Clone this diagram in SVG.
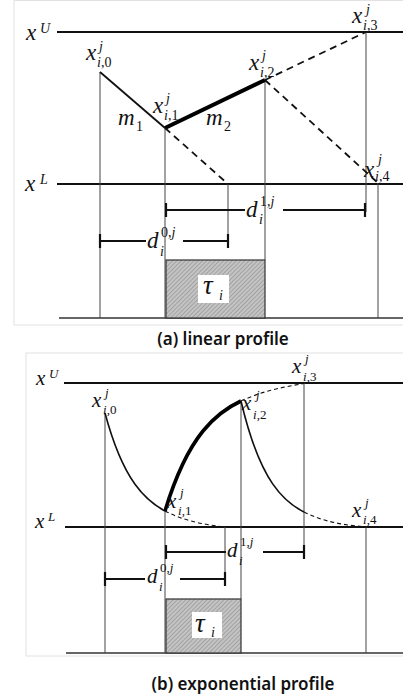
<svg xmlns="http://www.w3.org/2000/svg" width="403" height="696" viewBox="0 0 403 696">
<style>
.frame{fill:#fff;stroke:#e2e2e2;stroke-width:1}
.axis{stroke:#111;stroke-width:2;fill:none}
.base{stroke:#333;stroke-width:1.6;fill:none}
.vl{stroke:#444;stroke-width:1;fill:none}
.sol{stroke:#111;stroke-width:1.8;fill:none}
.thick{stroke:#000;stroke-width:4;fill:none}
.dsh{stroke:#111;stroke-width:1.8;stroke-dasharray:7 5;fill:none}
.solb{stroke:#111;stroke-width:1.6;fill:none}
.thickb{stroke:#000;stroke-width:3.6;fill:none}
.dshb{stroke:#111;stroke-width:1.1;stroke-dasharray:4 3;fill:none}
.dim{stroke:#111;stroke-width:1.8;fill:none}
.tick{stroke:#111;stroke-width:2.2;fill:none}
.box{fill:url(#hatch);stroke:#333;stroke-width:1.2}
.lbl{fill:#fff}
.m{font-family:"Liberation Serif",serif;font-style:italic;font-size:23px;fill:#111}
.mb{font-family:"Liberation Serif",serif;font-style:italic;font-size:21px;fill:#111}
.s{font-family:"Liberation Serif",serif;font-style:italic;font-size:14px;fill:#111}
.sb{font-family:"Liberation Serif",serif;font-style:italic;font-size:13px;fill:#111}
.n{font-style:normal}
.tau{font-family:"Liberation Serif",serif;font-style:italic;font-size:27px;fill:#111}
.cap{font-family:"Noto Sans",sans-serif;font-weight:600;font-size:17px;fill:#111;text-anchor:middle}
</style>
<defs>
<pattern id="hatch" patternUnits="userSpaceOnUse" width="3" height="3" patternTransform="rotate(45)">
<rect width="3" height="3" fill="#c4c4c4"/>
<line x1="0" y1="0" x2="0" y2="3" stroke="#8c8c8c" stroke-width="1.2"/>
</pattern>
</defs>

<!-- Panel (a) -->
<g id="panel-a">
<rect class="frame" x="14" y="0.5" width="395" height="324.5"/>
<line class="axis" x1="57" y1="32" x2="403" y2="32"/>
<line class="axis" x1="57" y1="184" x2="403" y2="184"/>
<line class="base" x1="59" y1="318" x2="403" y2="318"/>
</g>

<g id="task-a">
<rect class="box" x="166" y="260" width="99" height="58"/>
<rect class="lbl" x="198" y="275" width="31" height="28"/>
<text class="tau" x="203" y="294">τ</text><text class="s" x="219" y="300">i</text>
</g>

<g id="connectors-a">
<line class="vl" x1="100" y1="72" x2="100" y2="318"/>
<line class="vl" x1="165" y1="128" x2="165" y2="318"/>
<line class="vl" x1="265" y1="80" x2="265" y2="260"/>
<line class="vl" x1="228" y1="184" x2="228" y2="248"/>
<line class="vl" x1="366" y1="32" x2="366" y2="212"/>
<line class="vl" x1="378" y1="183" x2="378" y2="318"/>
<line class="sol" x1="100" y1="72" x2="165" y2="128"/>
<line class="thick" x1="165" y1="128" x2="265" y2="80"/>
<line class="dsh" x1="165" y1="128" x2="228" y2="184"/>
<line class="dsh" x1="265" y1="80" x2="366" y2="32"/>
<line class="dsh" x1="265" y1="80" x2="378" y2="183"/>
<line class="dim" x1="166" y1="210" x2="245" y2="210"/>
<line class="dim" x1="283" y1="210" x2="365" y2="210"/>
<line class="tick" x1="166" y1="203" x2="166" y2="217"/>
<line class="tick" x1="365" y1="203" x2="365" y2="217"/>
<line class="dim" x1="100" y1="241" x2="146" y2="241"/>
<line class="dim" x1="183" y1="241" x2="228" y2="241"/>
<line class="tick" x1="100" y1="234" x2="100" y2="248"/>
<line class="tick" x1="228" y1="234" x2="228" y2="248"/>
</g>

<g id="labels-a">
<g id="xU-a"><text class="m" x="26" y="40">x</text><text class="s" x="40" y="33">U</text></g>
<g id="xL-a"><text class="m" x="25" y="191">x</text><text class="s" x="40" y="184">L</text></g>
<g id="x0-a"><text class="m" x="86" y="60">x</text><text class="s" x="99" y="51">j</text><text class="s" x="97" y="67">i<tspan class="n">,0</tspan></text></g>
<g id="x1-a"><text class="m" x="153" y="113">x</text><text class="s" x="166" y="103">j</text><text class="s" x="164" y="120">i<tspan class="n">,1</tspan></text></g>
<g id="m1-a"><text class="m" x="118" y="125">m</text><text class="s n" x="136" y="131">1</text></g>
<g id="m2-a"><text class="m" x="206" y="125">m</text><text class="s n" x="224" y="131">2</text></g>
<g id="x2-a"><text class="m" x="249" y="70">x</text><text class="s" x="262" y="60">j</text><text class="s" x="260" y="77">i<tspan class="n">,2</tspan></text></g>
<g id="x3-a"><text class="m" x="352" y="23">x</text><text class="s" x="366" y="14">j</text><text class="s" x="363" y="30">i<tspan class="n">,3</tspan></text></g>
<g id="x4-a"><text class="m" x="364" y="177">x</text><text class="s" x="378" y="164">j</text><text class="s" x="375" y="181">i<tspan class="n">,4</tspan></text></g>
<g id="d1-a"><text class="m" x="246" y="217">d</text><text class="s" x="260" y="206"><tspan class="n">1,</tspan>j</text><text class="s" x="259" y="224">i</text></g>
<g id="d0-a"><text class="m" x="147" y="248">d</text><text class="s" x="161" y="237"><tspan class="n">0,</tspan>j</text><text class="s" x="160" y="256">i</text></g>
</g>
<text class="cap" x="223" y="345">(a) linear profile</text>

<!-- Panel (b) -->
<g id="panel-b">
<rect class="frame" x="26" y="353" width="383" height="303"/>
<line class="axis" x1="64" y1="383" x2="403" y2="383"/>
<line class="axis" x1="65" y1="527" x2="403" y2="527"/>
<line class="base" x1="66" y1="653" x2="403" y2="653"/>
</g>

<g id="task-b">
<rect class="box" x="166" y="599" width="75" height="54"/>
<rect class="lbl" x="192" y="612" width="30" height="26"/>
<text class="tau" x="195" y="632">τ</text><text class="s" x="211" y="637">i</text>
</g>

<g id="connectors-b">
<line class="vl" x1="105" y1="413" x2="105" y2="653"/>
<line class="vl" x1="165" y1="511" x2="165" y2="653"/>
<line class="vl" x1="241" y1="401" x2="241" y2="599"/>
<line class="vl" x1="225" y1="527" x2="225" y2="586"/>
<line class="vl" x1="304" y1="383" x2="304" y2="559"/>
<line class="vl" x1="366" y1="527" x2="366" y2="653"/>
<path class="solb" d="M105,413 C115,450.3 125,470.3 135,484.3 C145,498.2 155,505.7 165,511"/>
<path class="dshb" d="M165,511 C185,521.5 205,524.5 225,527"/>
<path class="thickb" d="M165,511 C177.7,469.2 190.3,446.7 203,431 C215.7,415.3 228.3,406.9 241,401"/>
<path class="dshb" d="M241,401 C262,391.2 283,387 304,383.5"/>
<path class="solb" d="M241,401 C251.5,445.7 262,468.1 272.5,483.6 C283,499 293.5,506.7 304,512"/>
<path class="dshb" d="M304,512 C324.7,522.5 345.3,525 366,527"/>
<line class="dim" x1="166" y1="552" x2="226" y2="552"/>
<line class="dim" x1="263" y1="552" x2="304" y2="552"/>
<line class="tick" x1="166" y1="545" x2="166" y2="559"/>
<line class="tick" x1="304" y1="545" x2="304" y2="559"/>
<line class="dim" x1="105" y1="579" x2="145" y2="579"/>
<line class="dim" x1="180" y1="579" x2="225" y2="579"/>
<line class="tick" x1="105" y1="572" x2="105" y2="586"/>
<line class="tick" x1="225" y1="572" x2="225" y2="586"/>
</g>

<g id="labels-b">
<g id="xU-b"><text class="mb" x="36" y="385">x</text><text class="sb" x="49" y="378">U</text></g>
<g id="xL-b"><text class="mb" x="35" y="528">x</text><text class="sb" x="48" y="521">L</text></g>
<g id="x0-b"><text class="mb" x="92" y="407">x</text><text class="sb" x="105" y="397">j</text><text class="sb" x="103" y="414">i<tspan class="n">,0</tspan></text></g>
<g id="x1-b"><text class="mb" x="167" y="508">x</text><text class="sb" x="180" y="497">j</text><text class="sb" x="178" y="515">i<tspan class="n">,1</tspan></text></g>
<g id="x2-b"><text class="mb" x="242" y="410">x</text><text class="sb" x="256" y="399">j</text><text class="sb" x="253" y="419">i<tspan class="n">,2</tspan></text></g>
<g id="x3-b"><text class="mb" x="292" y="373">x</text><text class="sb" x="305" y="363">j</text><text class="sb" x="303" y="381">i<tspan class="n">,3</tspan></text></g>
<g id="x4-b"><text class="mb" x="352" y="517">x</text><text class="sb" x="365" y="507">j</text><text class="sb" x="363" y="524">i<tspan class="n">,4</tspan></text></g>
<g id="d1-b"><text class="mb" x="227" y="557">d</text><text class="sb" x="240" y="546"><tspan class="n">1,</tspan>j</text><text class="sb" x="239" y="565">i</text></g>
<g id="d0-b"><text class="mb" x="147" y="583">d</text><text class="sb" x="160" y="572"><tspan class="n">0,</tspan>j</text><text class="sb" x="159" y="591">i</text></g>
</g>
<text class="cap" x="243" y="690">(b) exponential profile</text>
</svg>
